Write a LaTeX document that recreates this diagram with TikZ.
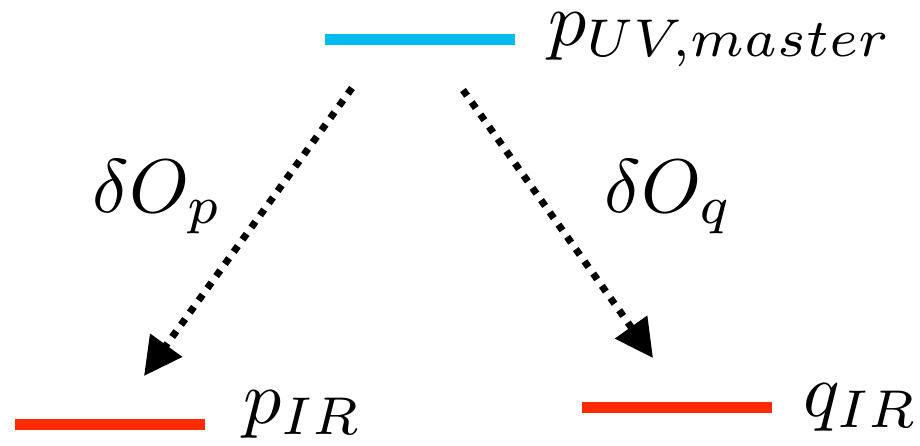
\documentclass[tikz,border=0pt]{standalone}
\usetikzlibrary{arrows.meta}
\definecolor{uvblue}{RGB}{0,187,238}
\definecolor{irred}{RGB}{255,42,0}
\tikzset{
  level/.style={rectangle, inner sep=0pt, minimum width=190pt, minimum height=11pt},
  lbl/.style={inner sep=0pt, scale=7.6, anchor=base west},
  flow/.style={line width=7pt, dash pattern=on 7pt off 8pt, -{Triangle[length=38pt,width=38pt]}}
}
\begin{document}
\begin{tikzpicture}[x=1pt,y=-1pt]
\useasboundingbox (0,0) rectangle (920,445);
\node[level, fill=uvblue] (uv) at (420,39) {};
\node[level, fill=irred] (pir) at (110,424) {};
\node[level, fill=irred] (qir) at (677,407) {};
\node[lbl] (luv) at (547,45) {$p_{UV,master}$};
\node[lbl] (lpir) at (242,423) {$p_{IR}$};
\node[lbl] (lqir) at (802,416) {$q_{IR}$};
\node[lbl] (dop) at (91,212) {$\delta O_p$};
\node[lbl] (doq) at (603,212) {$\delta O_q$};
\coordinate (s1) at (352,88);
\coordinate (t1) at (144,376);
\coordinate (s2) at (463,90);
\coordinate (t2) at (653,358);
\draw[flow] (s1) -- (t1);
\draw[flow] (s2) -- (t2);
\end{tikzpicture}
\end{document}
